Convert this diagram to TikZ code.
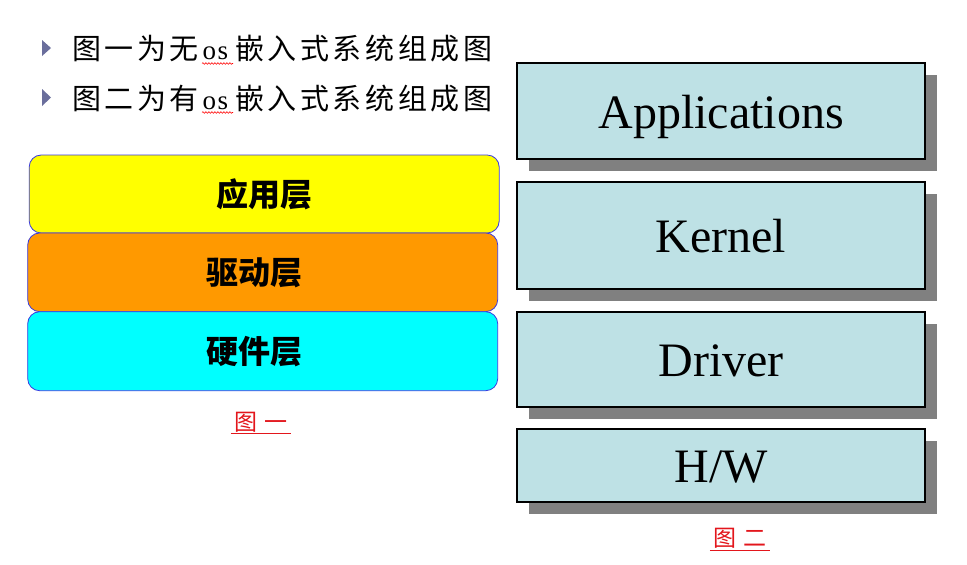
\documentclass[tikz,border=0pt]{standalone}
\usepackage{fontspec}
\setmainfont{Liberation Serif}
\newfontfamily\cjk{Noto Sans CJK SC}
\usetikzlibrary{shadows,decorations.pathmorphing}

\definecolor{bulletc}{HTML}{6A6E9C}
\definecolor{layeredge}{HTML}{3A3AE0}
\definecolor{applayer}{HTML}{FFFF00}
\definecolor{drvlayer}{HTML}{FF9900}
\definecolor{hwlayer}{HTML}{00FFFF}
\definecolor{osbox}{HTML}{BEE1E5}
\definecolor{osshade}{HTML}{808080}
\definecolor{capred}{HTML}{E3161C}

% fixed pitch for the heading characters
\newcommand\gl[1]{\makebox[32.6pt][l]{#1}}
\newcommand\oslat{\fontspec{Liberation Serif}\fontsize{27}{27}\selectfont o\kern1.5pt s}

\tikzset{
  layerbox/.style={draw=layeredge, line width=0.8pt, rounded corners=12pt,
    minimum width=470pt, inner sep=0pt,
    font=\cjk\bfseries\fontsize{32}{36}\selectfont,
    text height=24pt, text depth=0pt},
  osstack/.style={draw=black, line width=1.6pt, fill=osbox,
    minimum width=408pt, inner sep=0pt,
    font=\fontsize{48}{52}\selectfont,
    text height=34pt, text depth=0pt,
    drop shadow={shadow xshift=12pt, shadow yshift=-12pt,
      fill=osshade, opacity=1}},
  heading/.style={anchor=base west, inner sep=0pt,
    font=\cjk\fontsize{29}{34}\selectfont},
  bulletmark/.style={fill=bulletc},
  caption/.style={anchor=base, inner xsep=3pt, inner ysep=0pt, text=capred,
    font=\cjk\fontsize{23}{26}\selectfont},
  squiggle/.style={draw=red, line width=0.6pt, decorate,
    decoration={snake, amplitude=0.8pt, segment length=3pt}}
}

\begin{document}
\begin{tikzpicture}[x=1pt,y=-1pt]
  \useasboundingbox[fill=white] (0,0) rectangle (967,565);

  % heading lines with bullets
  \fill[bulletmark] (42,40) -- (51,48) -- (42,56) -- cycle;
  \fill[bulletmark] (42,89) -- (51,97.5) -- (42,106) -- cycle;
  \node[heading] (line1) at (72,59.5)
    {\gl{图}\gl{一}\gl{为}\gl{无}\gl{\oslat}\gl{嵌}\gl{入}\gl{式}\gl{系}\gl{统}\gl{组}\gl{成}图};
  \node[heading] (line2) at (72,109)
    {\gl{图}\gl{二}\gl{为}\gl{有}\gl{\oslat}\gl{嵌}\gl{入}\gl{式}\gl{系}\gl{统}\gl{组}\gl{成}图};
  \coordinate (sq1a) at (202,63.5);
  \coordinate (sq1b) at (233,63.5);
  \coordinate (sq2a) at (202,112.5);
  \coordinate (sq2b) at (233,112.5);
  \path[squiggle] (sq1a) -- (sq1b);
  \path[squiggle] (sq2a) -- (sq2b);

  % layers without an OS
  \node[layerbox, fill=applayer, minimum height=78pt] (app) at (264.2,194) {应用层};
  \node[layerbox, fill=drvlayer, minimum height=78.7pt] (drv) at (262.7,272.3) {驱动层\hspace*{16pt}};
  \node[layerbox, fill=hwlayer, minimum height=79pt] (hw) at (262.7,351.2) {硬件层\hspace*{16pt}};
  \node[caption] (cap1) at (261,430) {图\hspace{8pt}一};
  \draw[capred, line width=1pt] ([yshift=-3.3pt]cap1.base west) -- ([yshift=-3.3pt]cap1.base east);

  % layers with an OS
  \node[osstack, minimum height=96pt] (apps) at (721,111) {Applications};
  \node[osstack, minimum height=107pt] (kern) at (721,235.5) {Kernel};
  \node[osstack, minimum height=95pt] (driver) at (721,359.5) {Driver};
  \node[osstack, minimum height=73pt] (hwos) at (721,465.5) {H/W};
  \node[caption] (cap2) at (740,546.5) {图\hspace{8pt}二};
  \draw[capred, line width=1pt] ([yshift=-3.5pt]cap2.base west) -- ([yshift=-3.5pt]cap2.base east);
\end{tikzpicture}
\end{document}
